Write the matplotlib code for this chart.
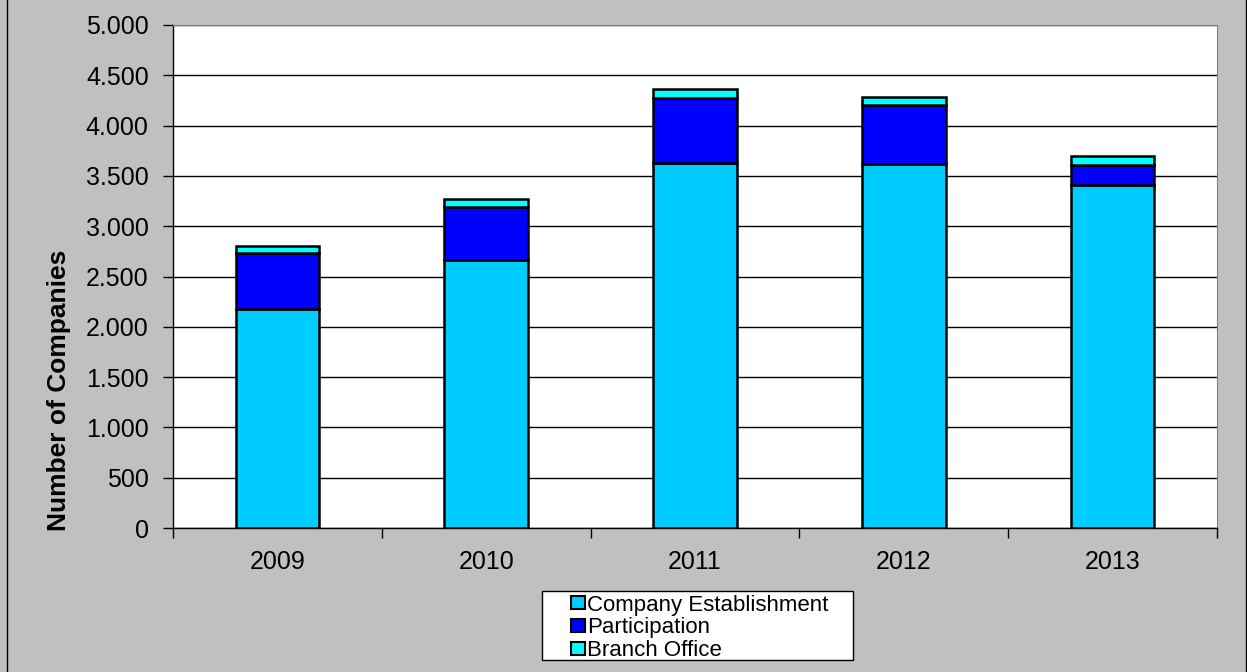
import matplotlib
matplotlib.use("Agg")
import matplotlib.pyplot as plt
import numpy as np
from matplotlib.patches import Rectangle, Patch
from matplotlib.lines import Line2D
from matplotlib.ticker import FuncFormatter

plt.rcParams['font.family'] = ['Liberation Sans', 'DejaVu Sans']

# data
years = ['2009', '2010', '2011', '2012', '2013']
establishment = [2180, 2660, 3630, 3620, 3405]
participation = [555, 535, 640, 580, 203]
branch_office = [70, 78, 95, 82, 90]

labels = ['Company Establishment', 'Participation', 'Branch Office']
colors = ['#00CCFF', '#0000FF', '#00FFFF']

W, H = 1247, 672
fig = plt.figure(figsize=(W / 100, H / 100), dpi=100, facecolor='#C0C0C0')
ax = fig.add_axes([173 / W, 1 - 528 / H, (1217 - 173) / W, (528 - 25) / H])
ax.set_facecolor('white')

x = np.arange(len(years))
bw = 0.4
bottom = np.zeros(len(years))
for vals, c in zip([establishment, participation, branch_office], colors):
    ax.bar(x, vals, bw, bottom=bottom, color=c, edgecolor='black', linewidth=1.8, zorder=3)
    bottom += np.array(vals)

ax.set_xlim(-0.5, len(years) - 0.5)
ax.set_ylim(0, 5000)
ax.set_yticks(np.arange(0, 5001, 500))
ax.yaxis.set_major_formatter(FuncFormatter(lambda v, p: f'{int(v):,}'.replace(',', '.')))
ax.grid(axis='y', color='black', linewidth=1, zorder=0)

ax.set_xticks(x)
ax.set_xticklabels(years)
ax.set_xticks(np.arange(-0.5, len(years)), minor=True)
ax.tick_params(axis='x', which='major', length=0, labelsize=18, pad=16)
ax.tick_params(axis='x', which='minor', length=7, width=1, direction='out')
ax.tick_params(axis='y', length=7, width=1, direction='out', labelsize=18, pad=10.5)

for s in ['top', 'right']:
    ax.spines[s].set_color('#808080')
for s in ['left', 'bottom']:
    ax.spines[s].set_color('black')
    ax.spines[s].set_linewidth(1)

ax.set_ylabel('Number of Companies', fontsize=19, fontweight='bold')
ax.yaxis.set_label_coords((71 - 173) / 1044, (528 - 390) / 503)

# legend box
fig.patches.append(Rectangle((542 / W, 1 - 660 / H), (853 - 542) / W, 69 / H,
                             transform=fig.transFigure, facecolor='white',
                             edgecolor='black', linewidth=1, zorder=1))
handles = [Patch(facecolor=c, edgecolor='black', linewidth=1.5) for c in colors]
leg = fig.legend(handles, labels, loc='upper left', bbox_to_anchor=(555 / W, 1 - 579 / H),
                 frameon=False, fontsize=16, handlelength=0.65, handleheight=0.55,
                 handletextpad=0.1, labelspacing=0.08, borderpad=0.2)
leg.set_zorder(2)

# outer chart border
fig.lines.append(Line2D([7 / W, 7 / W], [0, 1], transform=fig.transFigure, color='black', linewidth=1))
fig.lines.append(Line2D([1245.5 / W, 1245.5 / W], [0, 1], transform=fig.transFigure, color='black', linewidth=1))

fig.savefig('out.png', dpi=100, facecolor=fig.get_facecolor())
